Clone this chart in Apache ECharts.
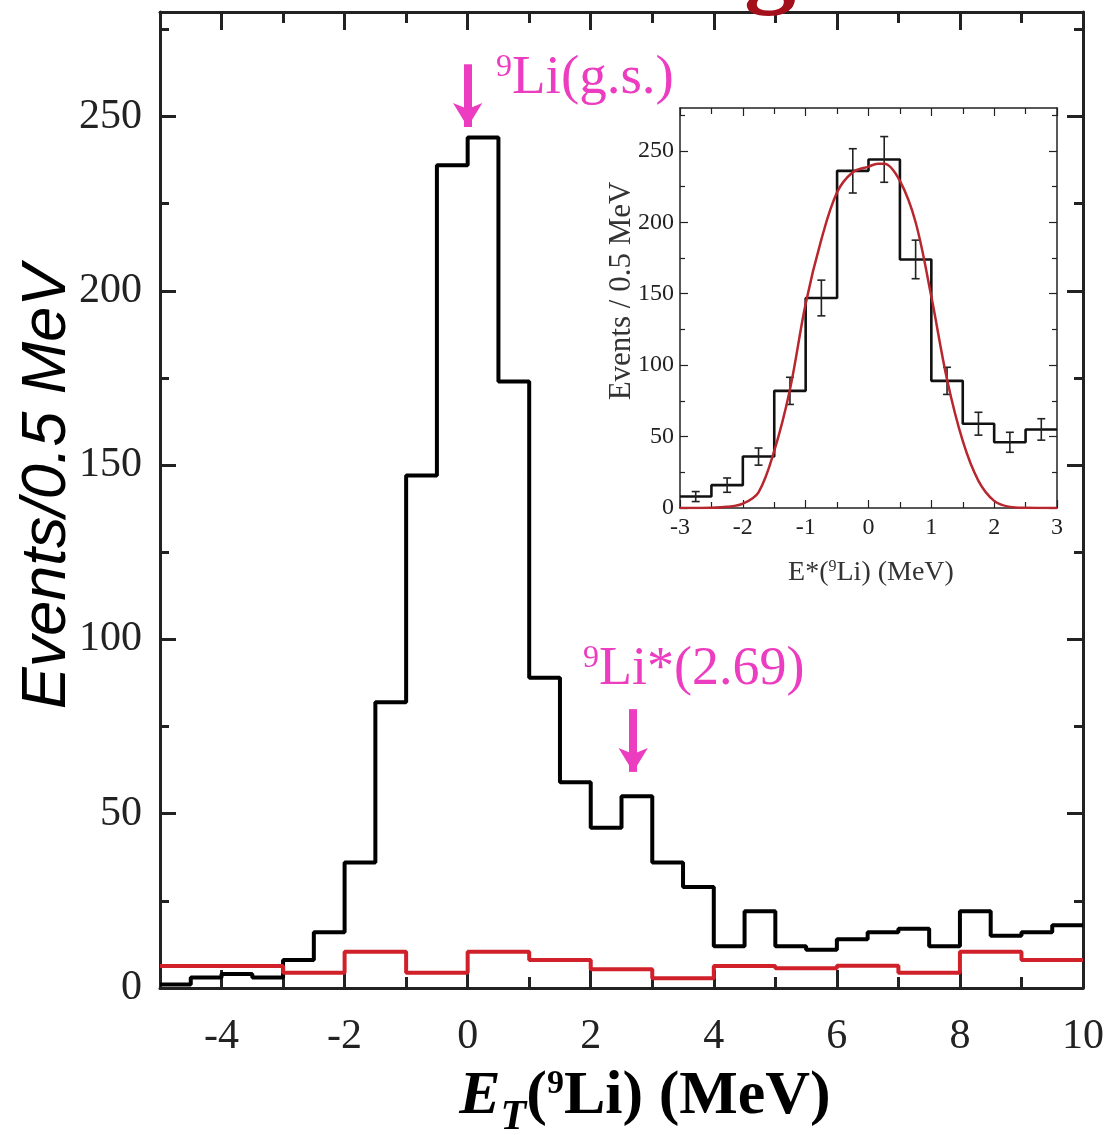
<!DOCTYPE html>
<html><head><meta charset="utf-8">
<script src="https://cdn.jsdelivr.net/npm/echarts@6/dist/echarts.min.js"></script>
<style>html,body{margin:0;padding:0;background:#fff}#c{width:1109px;height:1135px}</style>
</head><body><div id="c"></div>
<script>
// ---------- data ----------
// main spectrum: 0.5 MeV bins starting at -5 MeV
const mainBinStart = -5;
const mainBinWidth = 0.5;
const mainCounts = [1,3,4,3,8,16,36,82,147,236,244,174,89,59,46,55,36,29,12,22,12,11,14,16,17,12,22,15,16,18];
// background (red): 1 MeV bins starting at -5 MeV
const bgBinStart = -5;
const bgBinWidth = 1;
const bgCounts = [6.3,6.3,4.4,10.4,4.4,10.4,8.0,5.4,2.8,6.3,5.7,6.4,4.4,10.4,8.0];
// inset: 0.5 MeV bins starting at -3 MeV
const insetBinStart = -3;
const insetBinWidth = 0.5;
const insetCounts = [8,16,36,82,147,236,244,174,89,59,46,55];
const insetErrors = [3.5,5,6,9.5,12.5,15.5,16,13.5,9.5,8,7,7.5];
// fit curve in inset
const fitX = [-3,-2.75,-2.5,-2.25,-2,-1.75,-1.5,-1.25,-1,-0.75,-0.5,-0.25,0,0.15,0.25,0.5,0.75,1,1.25,1.5,1.75,2,2.25,2.5,2.75,3];
const fitY = [0,0,0.1,0.8,3,11,40,83,143,188,221,235,239,241,241,229,200,148,90,47,19,5,0.8,0.1,0,0];
// ticks
const xMajorTicks = [-4,-2,0,2,4,6,8,10];
const xMinorTicks = [-3,-1,1,3,5,7,9];
const yMajorTicks = [0,50,100,150,200,250];
const yMinorTicks = [25,75,125,175,225,275];
const insetXMajor = [-3,-2,-1,0,1,2,3];
const insetXMinor = [-2.5,-1.5,-0.5,0.5,1.5,2.5];
const insetYMajor = [0,50,100,150,200,250];
const insetYMinor = [25,75,125,175,225,275];
// annotations
const peakGS = {x:0, yTop:265, yTip:247};
const peakExc = {x:2.69, yTop:80, yTip:62};

// ---------- helpers ----------
function stepData(start, width, counts){
  const d = counts.map((v,i)=>[start + i*width, v]);
  d.push([start + counts.length*width, counts[counts.length-1]]);
  return d;
}
const SERIF = '"Liberation Serif","Times New Roman",serif';
const SANS = '"Liberation Sans",Arial,sans-serif';

function axis(opts){
  const a = {
    type:'value', gridIndex:opts.grid, position:opts.pos, min:opts.min, max:opts.max,
    splitLine:{show:false},
    axisLine:{show:!!opts.line, onZero:false, lineStyle:{color:'#222', width:opts.lw||3}},
    axisTick:{show:true, inside:true, length:opts.tl, customValues:opts.ticks, lineStyle:{color:'#222', width:opts.tw||3}},
    axisLabel:{show:false}
  };
  if (opts.labels){
    a.axisLabel = {show:true, customValues:opts.ticks, fontFamily:SERIF, fontSize:opts.fs, color:'#222', margin:opts.margin};
  }
  return a;
}

const xAxes = [
  axis({grid:0,pos:'bottom',min:-5,max:10,ticks:xMajorTicks,tl:18,line:true,labels:true,fs:42,margin:28}),
  axis({grid:0,pos:'top',min:-5,max:10,ticks:xMajorTicks,tl:18,line:true}),
  axis({grid:1,pos:'bottom',min:-5,max:10,ticks:xMinorTicks,tl:11}),
  axis({grid:1,pos:'top',min:-5,max:10,ticks:xMinorTicks,tl:11}),
  axis({grid:2,pos:'bottom',min:-3,max:3,ticks:insetXMajor,tl:8,line:true,labels:true,fs:24,margin:8,lw:1.5,tw:1.2}),
  axis({grid:2,pos:'top',min:-3,max:3,ticks:insetXMajor,tl:8,line:true,lw:1.5,tw:1.2}),
  axis({grid:3,pos:'bottom',min:-3,max:3,ticks:insetXMinor,tl:6,tw:1.2}),
  axis({grid:3,pos:'top',min:-3,max:3,ticks:insetXMinor,tl:6,tw:1.2})
];
const yAxes = [
  axis({grid:0,pos:'left',min:0,max:280,ticks:yMajorTicks,tl:16,line:true,labels:true,fs:42,margin:18}),
  axis({grid:0,pos:'right',min:0,max:280,ticks:yMajorTicks,tl:16,line:true}),
  axis({grid:1,pos:'left',min:0,max:280,ticks:yMinorTicks,tl:9}),
  axis({grid:1,pos:'right',min:0,max:280,ticks:yMinorTicks,tl:9}),
  axis({grid:2,pos:'left',min:0,max:280,ticks:insetYMajor,tl:8,line:true,labels:true,fs:24,margin:6,lw:1.5,tw:1.2}),
  axis({grid:2,pos:'right',min:0,max:280,ticks:insetYMajor,tl:8,line:true,lw:1.5,tw:1.2}),
  axis({grid:3,pos:'left',min:0,max:280,ticks:insetYMinor,tl:5,tw:1.2}),
  axis({grid:3,pos:'right',min:0,max:280,ticks:insetYMinor,tl:5,tw:1.2})
];

const MAGENTA = '#ec3cbf';
const insetCenters = insetCounts.map((v,i)=>insetBinStart + (i+0.5)*insetBinWidth);

const option = {
  animation:false,
  backgroundColor:'#fff',
  grid:[
    {left:160, top:12, width:923, height:976},
    {left:160, top:12, width:923, height:976},
    {left:680, top:108, width:377, height:400, show:true, backgroundColor:'#fff', borderWidth:0},
    {left:680, top:108, width:377, height:400}
  ],
  xAxis:xAxes,
  yAxis:yAxes,
  series:[
    {
      type:'line', xAxisIndex:0, yAxisIndex:0, step:'end', symbol:'none', z:3,
      data:stepData(mainBinStart, mainBinWidth, mainCounts),
      lineStyle:{color:'#000', width:4},
      markLine:{
        silent:true, symbol:['none','arrow'], symbolSize:[22,24],
        lineStyle:{color:MAGENTA, width:8, type:'solid'},
        label:{show:false},
        data:[
          [{coord:[peakGS.x, peakGS.yTop]},{coord:[peakGS.x, peakGS.yTip]}],
          [{coord:[peakExc.x, peakExc.yTop]},{coord:[peakExc.x, peakExc.yTip]}]
        ]
      }
    },
    {
      type:'line', xAxisIndex:0, yAxisIndex:0, step:'end', symbol:'none', z:4,
      data:stepData(bgBinStart, bgBinWidth, bgCounts),
      lineStyle:{color:'#d0202a', width:4}
    },
    {
      type:'line', xAxisIndex:4, yAxisIndex:4, step:'end', symbol:'none', z:5,
      data:stepData(insetBinStart, insetBinWidth, insetCounts),
      lineStyle:{color:'#111', width:2.6}
    },
    {
      type:'custom', xAxisIndex:4, yAxisIndex:4, z:6,
      data:insetCenters.map((x,i)=>[x, insetCounts[i]-insetErrors[i], insetCounts[i]+insetErrors[i]]),
      renderItem:function(params, api){
        const lo = api.coord([api.value(0), api.value(1)]);
        const hi = api.coord([api.value(0), api.value(2)]);
        const w = 4, st = {stroke:'#222', lineWidth:1.6};
        return {type:'group', children:[
          {type:'line', shape:{x1:lo[0],y1:lo[1],x2:hi[0],y2:hi[1]}, style:st},
          {type:'line', shape:{x1:lo[0]-w,y1:lo[1],x2:lo[0]+w,y2:lo[1]}, style:st},
          {type:'line', shape:{x1:hi[0]-w,y1:hi[1],x2:hi[0]+w,y2:hi[1]}, style:st}
        ]};
      }
    },
    {
      type:'line', xAxisIndex:4, yAxisIndex:4, smooth:0.35, symbol:'none', z:7,
      data:fitX.map((x,i)=>[x, fitY[i]]),
      lineStyle:{color:'#b8262e', width:2.5}
    }
  ],
  graphic:[
    {type:'text', x:47, y:487, rotation:Math.PI/2, z:10,
     style:{text:'Events/0.5 MeV', font:'italic 63px '+SANS, fill:'#000', align:'center', verticalAlign:'middle', textAlign:'center', textVerticalAlign:'middle'}},
    {type:'text', x:645, y:1097, z:10,
     style:{text:'{e|E}{t|T}{n|(}{s|9}{n|Li) (MeV)}', align:'center', verticalAlign:'middle', textAlign:'center', textVerticalAlign:'middle', fill:'#000',
       rich:{
         e:{fontFamily:SERIF, fontSize:62, fontWeight:'bold', fontStyle:'italic', lineHeight:84, verticalAlign:'middle', fill:'#000'},
         t:{fontFamily:SERIF, fontSize:42, fontWeight:'bold', fontStyle:'italic', lineHeight:42, verticalAlign:'bottom', fill:'#000'},
         n:{fontFamily:SERIF, fontSize:62, fontWeight:'bold', lineHeight:84, verticalAlign:'middle', fill:'#000'},
         s:{fontFamily:SERIF, fontSize:34, fontWeight:'bold', lineHeight:34, verticalAlign:'top', padding:[12,0,0,0], fill:'#000'}
       }}},
    {type:'text', x:622, y:291, rotation:Math.PI/2, z:10,
     style:{text:'Events / 0.5 MeV', font:'31px '+SERIF, fill:'#333', align:'center', verticalAlign:'middle', textAlign:'center', textVerticalAlign:'middle'}},
    {type:'text', x:871, y:573, z:10,
     style:{text:'{n|E*(}{s|9}{n|Li) (MeV)}', align:'center', verticalAlign:'middle', textAlign:'center', textVerticalAlign:'middle', fill:'#333',
       rich:{
         n:{fontFamily:SERIF, fontSize:28, lineHeight:36, verticalAlign:'middle', fill:'#333'},
         s:{fontFamily:SERIF, fontSize:16, lineHeight:16, verticalAlign:'top', padding:[4,0,0,0], fill:'#333'}
       }}},
    {type:'text', x:496, y:79, z:10,
     style:{text:'{s|9}{n|Li(g.s.)}', align:'left', verticalAlign:'middle', textAlign:'left', textVerticalAlign:'middle', fill:MAGENTA,
       rich:{
         n:{fontFamily:SERIF, fontSize:55, lineHeight:70, verticalAlign:'middle', fill:MAGENTA},
         s:{fontFamily:SERIF, fontSize:32, lineHeight:32, verticalAlign:'top', padding:[8,0,0,0], fill:MAGENTA}
       }}},
    {type:'text', x:583, y:670, z:10,
     style:{text:'{s|9}{n|Li*(2.69)}', align:'left', verticalAlign:'middle', textAlign:'left', textVerticalAlign:'middle', fill:MAGENTA,
       rich:{
         n:{fontFamily:SERIF, fontSize:54, lineHeight:70, verticalAlign:'middle', fill:MAGENTA},
         s:{fontFamily:SERIF, fontSize:32, lineHeight:32, verticalAlign:'top', padding:[8,0,0,0], fill:MAGENTA}
       }}},
    {type:'text', x:770, y:-34, z:1,
     style:{text:'g', font:'bold 104px '+SERIF, fill:'#a3101c', align:'center', verticalAlign:'middle', textAlign:'center', textVerticalAlign:'middle'}}
  ]
};
const chart = echarts.init(document.getElementById('c'));
chart.setOption(option);
</script>
</body></html>
